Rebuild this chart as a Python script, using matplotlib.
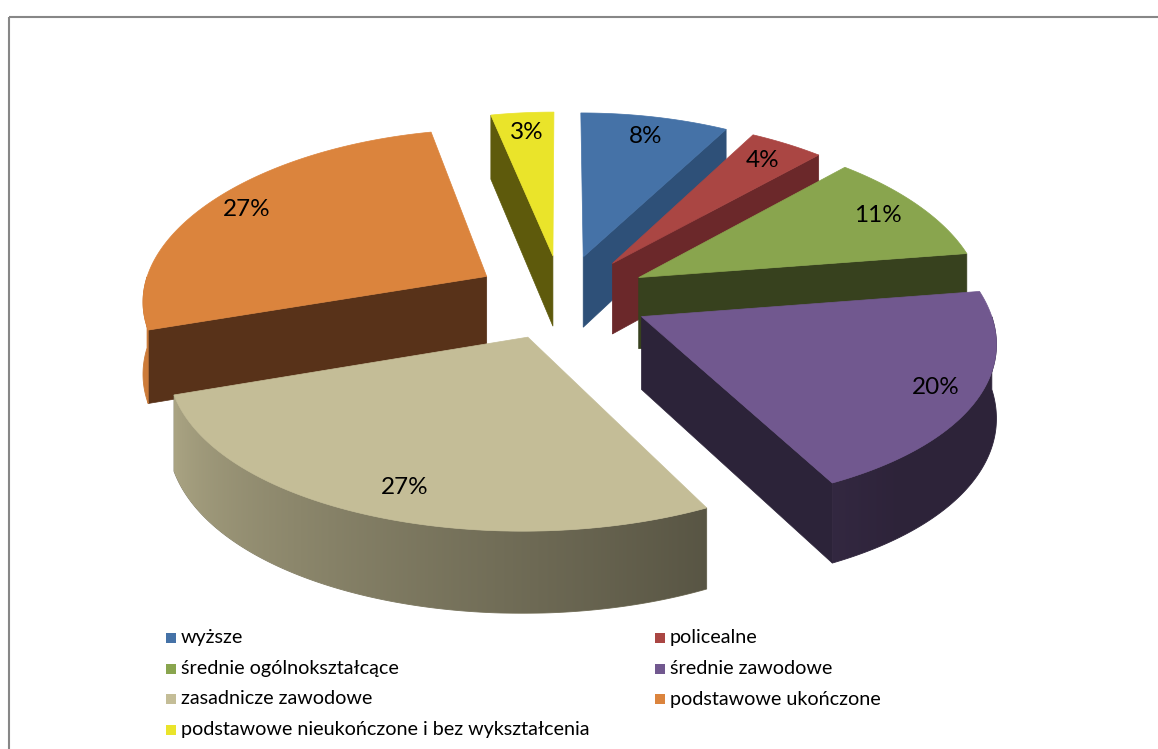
import numpy as np
import matplotlib.pyplot as plt
import matplotlib.colors as mcolors
from matplotlib.patches import Polygon, Rectangle

plt.rcParams['font.family'] = ['Lato', 'DejaVu Sans']

categories = ['wyższe', 'policealne', 'średnie ogólnokształcące',
              'średnie zawodowe', 'zasadnicze zawodowe',
              'podstawowe ukończone',
              'podstawowe nieukończone i bez wykształcenia']
# shares in % (labels show them rounded)
values = [8.0, 4.0, 10.6, 19.9, 27.3, 26.8, 3.4]
top_colors = ['#4572A7', '#AA4643', '#89A54E', '#71588F', '#C4BD97',
              '#DB843D', '#EAE42A']
side_colors = ['#2E5078', '#6B282A', '#37411E', '#2C2339', '#5A5545',
               '#583219', '#5E5A0C']

# view / geometry in pixel space
CX, CY = 562, 297
RX, RY = 345, 166
PX, PY, PH = 0.13, 0.10, 0.10
DEPTH = 72
EXPLODE = 0.255
label_r = [0.85, 0.85, 0.85, 0.88, 0.85, 0.87, 0.85]
label_da = [0, 0, 0, 0, 1.5, 0, 0]


def proj(X, Z, h=0.0):
    x = CX + RX * X / (1 + PX * Z)
    y = CY - RY * Z / (1 + PY * Z) + h * DEPTH / (1 + PH * Z)
    return x, y


def side_factor(theta):
    phi = np.mod(theta, 360)
    return np.interp(phi, [180, 198, 295, 310, 360],
                     [1.0, 0.87, 0.46, 0.40, 0.40])


fig = plt.figure(figsize=(11.58, 7.49), dpi=100)
ax = fig.add_axes([0, 0, 1, 1])

ax.add_patch(Rectangle((9, 17), 1200, 800, fill=False,
                       edgecolor='#878787', linewidth=1.5))

total = float(sum(values))
starts = 90 - 360 * np.concatenate([[0], np.cumsum(values)[:-1]]) / total
ends = starts - 360 * np.array(values) / total

slices = []
for i in range(len(values)):
    a1, a2 = ends[i], starts[i]
    m = np.radians((a1 + a2) / 2)
    slices.append((np.sin(m), i, a1, a2, m))

# back to front
for _, i, a1, a2, m in sorted(slices, reverse=True):
    ox, oz = EXPLODE * np.cos(m), EXPLODE * np.sin(m)
    th = np.linspace(a1, a2, 240)
    tr = np.radians(th)
    X, Z = ox + np.cos(tr), oz + np.sin(tr)
    top = [proj(ox, oz)] + [proj(x, z) for x, z in zip(X, Z)]
    # radial faces
    for a, vis in ((a1, np.cos(np.radians(a1)) > 1e-6),
                   (a2, np.cos(np.radians(a2)) < -1e-6)):
        if vis:
            ar = np.radians(a)
            rx, rz = ox + np.cos(ar), oz + np.sin(ar)
            quad = [proj(ox, oz), proj(rx, rz), proj(rx, rz, 1),
                    proj(ox, oz, 1)]
            ax.add_patch(Polygon(quad, closed=True, facecolor=side_colors[i],
                                 edgecolor=side_colors[i], linewidth=0.5))
    # outer curved side (front half only), shaded left to right
    front = np.where(np.sin(tr) < 0)[0]
    if len(front):
        k0, k1 = front[0], front[-1]
        outline = ([proj(X[k], Z[k]) for k in range(k0, k1 + 1)] +
                   [proj(X[k], Z[k], 1) for k in range(k1, k0 - 1, -1)])
        pts = np.array(outline)
        base = np.array(mcolors.to_rgb(top_colors[i]))
        xa = np.array([proj(X[k], Z[k])[0] for k in range(k0, k1 + 1)])
        fa = side_factor(th[k0:k1 + 1])
        order = np.argsort(xa)
        x0, x1 = pts[:, 0].min(), pts[:, 0].max()
        y0, y1 = pts[:, 1].min(), pts[:, 1].max()
        gx = np.linspace(x0, x1, 200)
        f = np.interp(gx, xa[order], fa[order])
        img = (base[None, :] * f[:, None])[None, :, :]
        clip = Polygon(outline, closed=True, facecolor='none',
                       edgecolor=tuple(base * f.mean()), linewidth=0.6)
        ax.add_patch(clip)
        im = ax.imshow(img, extent=(x0, x1, y1, y0), aspect='auto',
                       interpolation='bilinear', zorder=1)
        im.set_clip_path(clip)
    ax.add_patch(Polygon(top, closed=True, facecolor=top_colors[i],
                         edgecolor=top_colors[i], linewidth=0.5, zorder=1))

# data labels
for _, i, a1, a2, m in slices:
    ox, oz = EXPLODE * np.cos(m), EXPLODE * np.sin(m)
    ml = m + np.radians(label_da[i])
    lx, ly = proj(ox + label_r[i] * np.cos(ml), oz + label_r[i] * np.sin(ml))
    ax.text(lx, ly, f'{values[i]:.0f}%', ha='center', va='center',
            fontsize=17.5, color='black', zorder=3)

# legend, two columns filled row by row
col_x = [166, 655]
row_y0, row_dy = 638, 30.5
for i, name in enumerate(categories):
    x = col_x[i % 2]
    y = row_y0 + row_dy * (i // 2)
    ax.add_patch(Rectangle((x, y - 5), 10, 10, facecolor=top_colors[i],
                           edgecolor='none'))
    ax.text(x + 15, y, name, ha='left', va='center', fontsize=14.2,
            color='black')

ax.set_xlim(0, 1158)
ax.set_ylim(749, 0)
ax.axis('off')
fig.savefig('out.png', dpi=100)
